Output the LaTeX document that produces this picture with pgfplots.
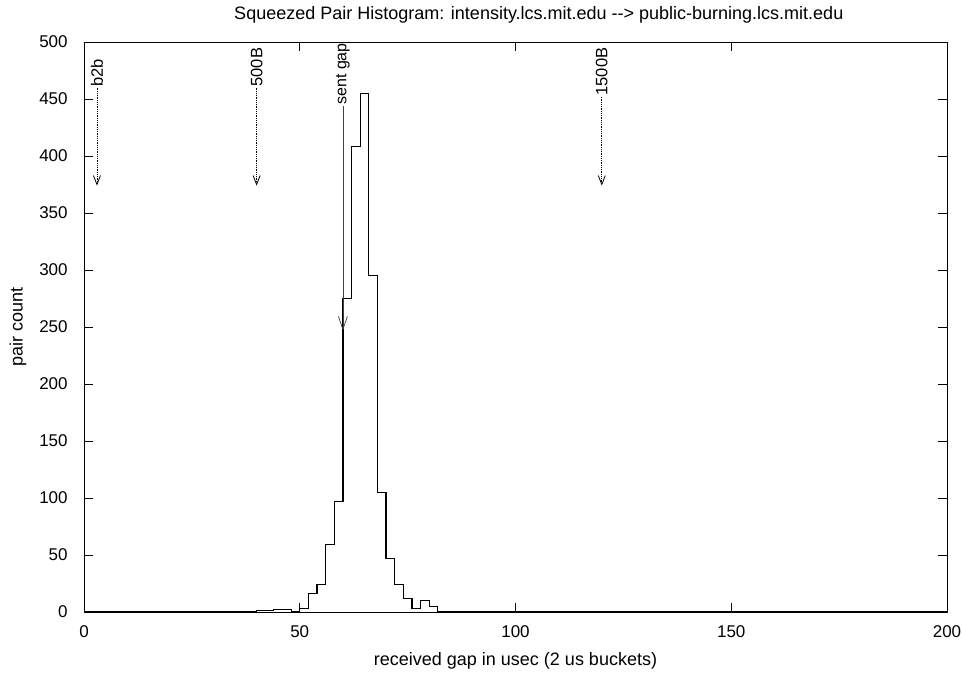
\documentclass[border=0pt]{standalone}
\usepackage{fontspec}
\setmainfont{Liberation Sans}
\usepackage{pgfplots}
\pgfplotsset{compat=1.18}
\usetikzlibrary{arrows.meta}
\begin{document}
\fontsize{17}{20}\selectfont
\begin{tikzpicture}
\path[use as bounding box] (-84pt,-60pt) rectangle (879pt,612pt);
\begin{axis}[
  scale only axis, width=863pt, height=570pt,
  xmin=0, xmax=200, ymin=0, ymax=500,
  xtick={0,50,...,200}, ytick={0,50,...,500},
  tick align=inside, major tick length=9pt,
  tick style={black, line width=0.8pt},
  axis line style={black, line width=0.9pt},
  /pgf/number format/assume math mode=true,
  tick label style={font=\fontsize{17}{20}\selectfont},
  xticklabel style={anchor=center, yshift=-20pt},
  yticklabel style={anchor=east, xshift=-10.5pt},
  title={Squeezed Pair Histogram: intensity.lcs.mit.edu -{}-> public-burning.lcs.mit.edu},
  title style={at={(axis description cs:0.527,1.037)}, anchor=center, font=\fontsize{18}{21}\selectfont},
  xlabel={received gap in usec (2 us buckets)},
  xlabel style={at={(axis description cs:0.5,-0.086)}, anchor=center, font=\fontsize{18}{21}\selectfont},
  ylabel={pair count},
  ylabel style={at={(axis description cs:-0.0765,0.5)}, anchor=center, font=\fontsize{18}{21}\selectfont},
]
\addplot[const plot, black, line width=1.2pt] coordinates {
(0,0) (40,1) (44,2) (48,0) (50,3) (52,16) (54,24) (56,59) (58,97)
(60,275) (62,408) (64,455) (66,295) (68,105) (70,47) (72,24) (74,12)
(76,3) (78,10) (80,5) (82,0) (200,0)
};
% annotations
\node[rotate=90, anchor=west, inner sep=1pt, font=\fontsize{16.5}{20}\selectfont] at (axis cs:3,460) {b2b};
\draw[densely dotted, line width=0.8pt, -{Straight Barb[length=9pt,width=7pt]}] (axis cs:3,460) -- (axis cs:3,374);
\node[rotate=90, anchor=west, inner sep=1pt, font=\fontsize{16.5}{20}\selectfont] at (axis cs:40,460) {500B};
\draw[densely dotted, line width=0.8pt, -{Straight Barb[length=9pt,width=7pt]}] (axis cs:40,460) -- (axis cs:40,374);
\node[rotate=90, anchor=west, inner sep=1pt, font=\fontsize{16.5}{20}\selectfont] at (axis cs:120,452) {1500B};
\draw[densely dotted, line width=0.8pt, -{Straight Barb[length=9pt,width=7pt]}] (axis cs:120,452) -- (axis cs:120,374);
\node[rotate=90, anchor=west, inner sep=1pt, font=\fontsize{16}{20}\selectfont] at (axis cs:60,444) {sent gap};
\draw[black!75, line width=0.7pt, -{Straight Barb[length=13pt,width=9pt]}] (axis cs:60,444) -- (axis cs:60,247);
\end{axis}
\end{tikzpicture}
\end{document}
